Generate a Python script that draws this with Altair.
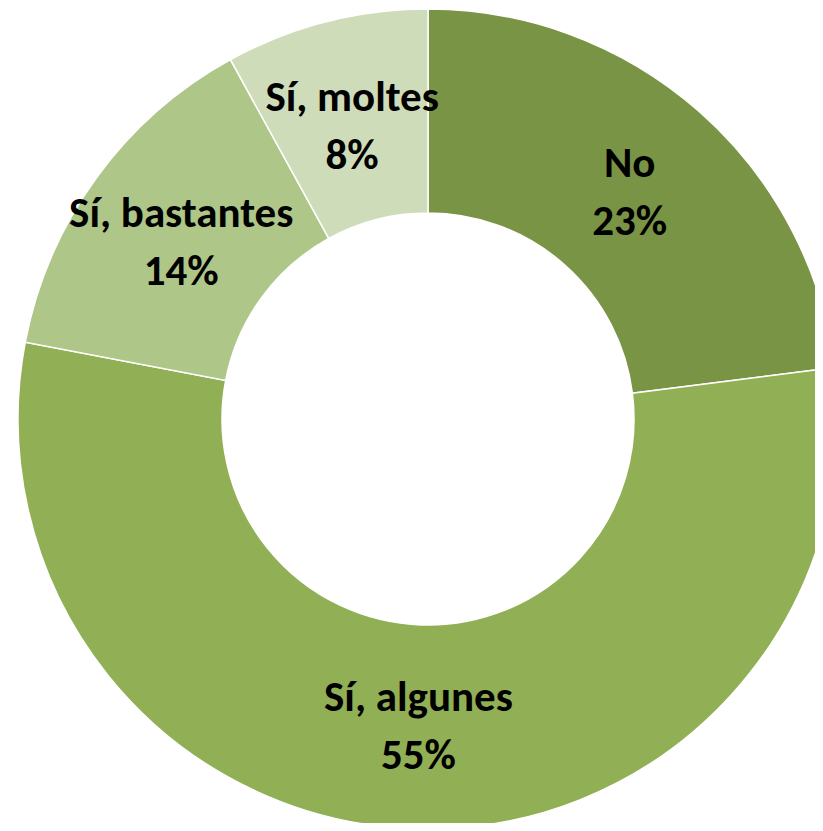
import altair as alt
import pandas as pd

categories = ["No", "Sí, algunes", "Sí, bastantes", "Sí, moltes"]
values = [23, 55, 14, 8]
colors = ["#7a9445", "#91af54", "#aec687", "#cfdcb9"]

df = pd.DataFrame({
    "cat": categories,
    "val": values,
    "order": list(range(len(categories))),
})
df["label"] = [[c, f"{v}%"] for c, v in zip(categories, values)]

CX, CY = 420, 411
R_OUT, R_IN = 410, 206
R_LBL = 305

base = alt.Chart(df).encode(
    theta=alt.Theta("val:Q", stack=True),
    order=alt.Order("order:Q"),
)

arcs = base.mark_arc(
    outerRadius=R_OUT, innerRadius=R_IN, stroke="white", strokeWidth=1.5
).encode(
    color=alt.Color("cat:N", scale=alt.Scale(domain=categories, range=colors), legend=None),
    x=alt.value(CX),
    y=alt.value(CY),
)

labels = base.mark_text(
    radius=R_LBL, font="Carlito, Lato", fontWeight="bold", fontSize=43, color="black",
    align="center", baseline="middle", lineHeight=58, dy=-26,
).encode(
    text="label",
    x=alt.value(CX),
    y=alt.value(CY),
)

chart = (arcs + labels).properties(
    width=807, height=815, padding=0, autosize=alt.AutoSizeParams(type="none")
).configure_view(stroke=None)

chart.save("out.html", embed_options={"renderer": "svg", "actions": False})
